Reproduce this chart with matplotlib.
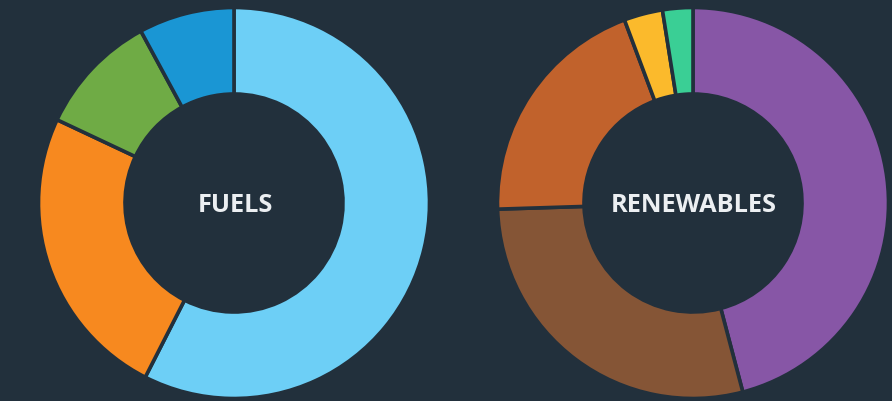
import matplotlib
matplotlib.use("Agg")
import matplotlib.pyplot as plt

# Data (percent shares, clockwise from top)
fuels_labels = ["Fuel A", "Fuel B", "Fuel C", "Fuel D"]
fuels_values = [57.5, 24.5, 10.1, 7.9]
fuels_colors = ["#6DCFF6", "#F7891F", "#6FAB45", "#1A96D4"]

renew_labels = ["Renew A", "Renew B", "Renew C", "Renew D", "Renew E"]
renew_values = [45.9, 28.6, 19.8, 3.2, 2.5]
renew_colors = ["#8756A6", "#855536", "#C1622C", "#FBBA2C", "#3ACF95"]

titles = ["FUELS", "RENEWABLES"]

BG = "#22303C"
W, H = 892, 401

fig = plt.figure(figsize=(W / 100, H / 100), dpi=100, facecolor=BG)
ax = fig.add_axes([0, 0, 1, 1])
ax.set_facecolor(BG)

R = 195.5
width = 86.5
cy = H - 203

for (vals, cols, title, cx) in [
    (fuels_values, fuels_colors, titles[0], 234),
    (renew_values, renew_colors, titles[1], 693),
]:
    ax.pie(vals, colors=cols, startangle=90, counterclock=False,
           center=(cx, cy), radius=R, frame=True,
           wedgeprops=dict(width=width, edgecolor=BG, linewidth=2.6))
    ax.text(cx + 1, cy - 3, title, ha="center", va="center", color="#ECEFF2",
            fontsize=18.3, fontweight="bold", family="Open Sans")

ax.set_xlim(0, W)
ax.set_ylim(0, H)
ax.set_aspect("equal")
ax.axis("off")

fig.savefig("out.png", dpi=100, facecolor=BG)
